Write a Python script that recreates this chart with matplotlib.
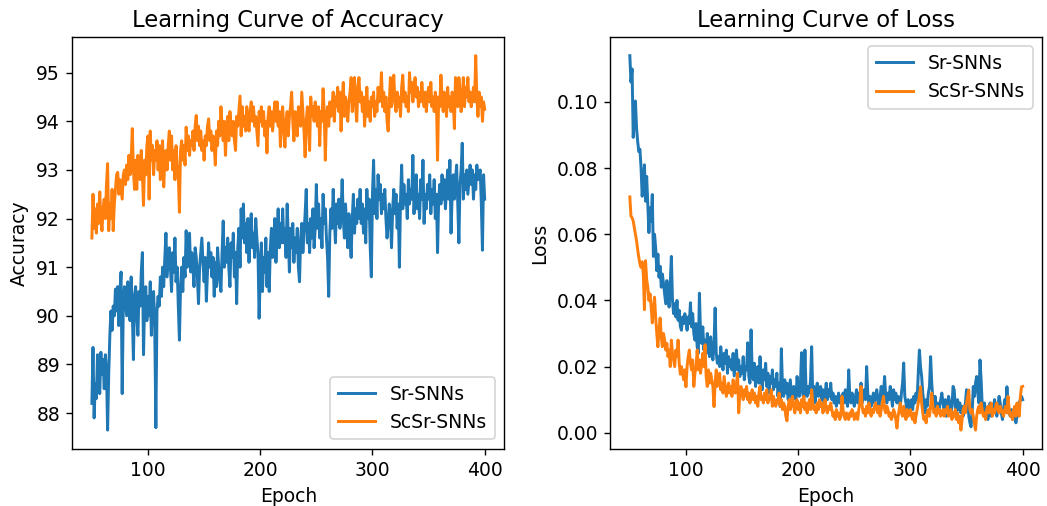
import numpy as np
import matplotlib
matplotlib.use("Agg")
import matplotlib.pyplot as plt

# input data (one per epoch from 50 to 400)
epochs = np.arange(50, 401)
labels = ['Sr-SNNs', 'ScSr-SNNs']

acc_sr = [
    88.2, 89.35, 87.9, 88.6, 88.3, 89.2, 88.7, 88.4, 89.25, 88.8,
    89.1, 88.5, 89.2, 88.9, 87.65, 88.8, 89.6, 90.1, 89.7, 90.2,
    90.0, 90.55, 90.1, 90.6, 89.8, 90.5, 90.9, 88.4, 90.2, 90.6,
    90.3, 90.0, 90.7, 90.2, 89.9, 90.8, 90.1, 89.1, 90.4, 90.6,
    90.0, 89.6, 90.5, 90.2, 90.9, 91.3, 89.2, 90.3, 90.6, 89.9,
    90.4, 90.0, 90.7, 89.6, 90.3, 90.5, 89.8, 87.7, 90.1, 90.4,
    90.2, 90.8, 90.4, 91.0, 90.6, 91.2, 91.7, 90.8, 91.1, 91.4,
    91.0, 90.5, 91.3, 90.9, 91.6, 90.7, 91.0, 90.2, 89.5, 90.6,
    91.0, 90.5, 91.2, 90.8, 91.75, 91.0, 91.4, 91.7, 90.9, 91.3,
    91.0, 90.6, 91.4, 91.2, 90.8, 90.25, 91.0, 91.3, 91.6, 91.1,
    90.7, 91.2, 90.3, 90.9, 91.5, 91.0, 91.3, 90.8, 91.2, 90.4,
    91.1, 90.6, 91.4, 91.0, 90.7, 90.5, 91.3, 91.95, 91.0, 91.4,
    91.1, 91.6, 91.0, 90.6, 91.5, 91.2, 91.7, 90.8, 91.3, 90.25,
    91.4, 91.8, 91.0, 92.2, 91.6, 92.3, 91.5, 91.9, 91.3, 92.0,
    91.1, 91.8, 92.1, 91.4, 91.7, 91.2, 92.0, 91.6, 91.3, 89.95,
    90.8, 91.5, 90.5, 91.2, 90.9, 91.6, 90.6, 91.3, 90.5, 91.4,
    91.8, 91.2, 91.5, 92.0, 91.1, 91.7, 92.2, 91.4, 91.9, 91.5,
    92.2, 91.5, 91.8, 91.2, 92.3, 91.6, 90.9, 91.8, 91.4, 91.9,
    91.1, 91.6, 91.3, 91.8, 91.0, 90.7, 91.6, 91.9, 91.3, 91.7,
    92.1, 92.6, 91.5, 91.9, 91.3, 92.0, 91.6, 92.2, 91.4, 91.8,
    92.7, 91.8, 92.3, 91.6, 92.0, 91.4, 92.5, 91.9, 92.2, 91.6,
    91.2, 90.4, 91.7, 92.2, 91.8, 92.6, 92.0, 91.5, 92.3, 91.9,
    92.4, 91.8, 92.1, 92.8, 92.0, 91.6, 92.3, 91.8, 91.4, 92.1,
    91.6, 91.2, 92.0, 92.5, 91.7, 92.2, 91.9, 92.4, 92.0, 92.6,
    91.9, 92.3, 91.7, 92.2, 91.5, 92.6, 92.0, 92.4, 91.4, 90.8,
    92.5, 93.2, 92.1, 92.6, 92.0, 92.9, 92.4, 92.7, 92.1, 92.5,
    92.2, 92.6, 92.0, 91.6, 91.9, 92.3, 92.0, 91.4, 92.2, 92.6,
    92.1, 92.5, 91.8, 92.3, 91.0, 92.4, 93.1, 92.2, 92.7, 92.3,
    92.5, 92.0, 92.8, 92.3, 92.6, 92.4, 93.3, 92.1, 92.6, 92.9,
    92.2, 92.5, 92.0, 92.8, 92.4, 93.2, 91.9, 92.5, 92.2, 92.7,
    92.4, 92.9, 92.1, 92.6, 92.3, 92.8, 92.0, 92.5, 91.3, 92.4,
    92.7, 92.3, 92.9, 92.4, 92.8, 92.2, 92.6, 93.0, 92.4, 93.2,
    91.7, 92.5, 92.9, 92.4, 92.8, 93.1, 92.3, 91.5, 92.7, 93.0,
    93.55, 92.4, 92.9, 92.6, 93.0, 92.5, 92.8, 93.1, 92.7, 93.0,
    92.4, 92.9, 92.6, 93.1, 92.8, 92.9, 93.0, 92.3, 91.35, 92.9,
    92.4,
]

acc_scsr = [
    91.6, 92.5, 91.8, 92.2, 91.7, 92.3, 91.9, 92.55, 92.0, 91.75,
    92.2, 92.4, 92.0, 92.7, 93.13, 91.75, 92.3, 92.0, 92.6, 91.75,
    92.3, 92.6, 92.9, 92.95, 92.5, 92.8, 92.6, 92.4, 92.9, 93.0,
    92.7, 93.1, 92.8, 93.3, 92.9, 93.2, 93.85, 93.0, 92.6, 93.2,
    92.6, 93.3, 93.1, 92.8, 93.4, 92.9, 92.27, 93.2, 92.9, 93.5,
    93.7, 92.4, 93.8, 93.2, 93.5, 92.9, 93.4, 93.2, 93.6, 93.0,
    93.5, 92.8, 93.3, 93.6, 92.65, 93.2, 93.4, 93.0, 93.5, 93.8,
    93.2, 93.7, 93.0, 93.4, 92.8, 93.5, 93.1, 92.9, 92.13, 93.4,
    93.6, 93.2, 93.5, 93.1, 93.88, 93.4, 93.7, 93.3, 93.6, 93.5,
    93.8, 93.4, 93.9, 94.12, 93.6, 93.9, 93.5, 93.8, 93.4, 93.6,
    93.2, 93.7, 93.5, 93.9, 94.05, 93.6, 93.8, 93.4, 93.7, 93.5,
    93.1, 93.8, 93.5, 94.0, 93.7, 94.3, 93.9, 93.6, 94.0, 93.3,
    93.8, 94.1, 93.6, 94.2, 93.9, 93.7, 94.0, 93.6, 93.4, 94.1,
    93.9, 94.2, 94.52, 93.7, 94.3, 93.9, 94.1, 93.8, 94.3, 94.0,
    93.8, 94.2, 94.4, 94.0, 94.3, 93.9, 94.1, 93.8, 93.5, 94.2,
    94.0, 94.3, 93.9, 94.2, 93.7, 94.0, 93.35, 94.1, 94.3, 93.9,
    94.2, 93.8, 94.1, 94.4, 94.0, 94.4, 93.9, 94.2, 93.48, 94.1,
    94.3, 93.8, 93.47, 94.0, 94.2, 93.7, 94.1, 94.3, 94.6, 94.0,
    93.6, 94.2, 94.0, 93.7, 94.3, 94.1, 93.9, 94.6, 94.2, 93.8,
    93.27, 94.0, 94.3, 93.9, 93.4, 94.5, 94.1, 94.3, 94.0, 94.4,
    94.1, 93.9, 94.3, 93.5, 94.2, 94.0, 94.67, 94.2, 93.2, 94.1,
    94.3, 93.9, 94.4, 94.1, 94.3, 94.6, 94.0, 94.5, 94.3, 94.7,
    94.2, 94.6, 93.8, 94.4, 94.8, 94.1, 94.5, 94.3, 94.0, 94.4,
    94.6, 94.9, 94.2, 94.5, 94.9, 94.3, 94.0, 94.7, 94.9, 94.4,
    94.6, 94.2, 94.5, 93.9, 94.3, 94.7, 94.1, 94.4, 94.0, 94.5,
    94.3, 94.6, 94.1, 94.4, 94.2, 94.7, 94.4, 94.5, 95.0, 94.3,
    94.6, 94.2, 94.5, 94.0, 93.8, 94.4, 94.9, 94.3, 94.6, 94.95,
    94.4, 94.2, 94.6, 94.3, 94.5, 94.1, 94.7, 94.95, 94.4, 94.6,
    94.3, 94.5, 94.2, 95.0, 94.6, 94.8, 94.4, 94.7, 94.9, 94.5,
    94.7, 94.3, 94.6, 94.4, 94.8, 94.5, 94.3, 94.6, 94.2, 94.5,
    94.7, 94.4, 94.8, 94.3, 94.5, 94.2, 94.6, 94.4, 93.2, 94.5,
    94.3, 94.95, 94.5, 94.2, 94.6, 94.4, 94.1, 94.7, 94.3, 94.5,
    94.2, 94.6, 94.4, 93.85, 94.9, 94.5, 94.3, 94.9, 94.6, 94.2,
    94.5, 94.9, 94.3, 94.7, 94.5, 94.9, 94.4, 94.6, 94.3, 94.5,
    94.7, 94.4, 95.35, 94.5, 94.1, 94.6, 94.3, 94.5, 94.0, 94.4,
    94.25,
]

loss_sr = [
    0.1140, 0.1060, 0.1100, 0.0893, 0.0950, 0.1003, 0.0920, 0.0880, 0.0850, 0.0857,
    0.0800, 0.0715, 0.0760, 0.0810, 0.0700, 0.0775, 0.0690, 0.0605, 0.0680, 0.0640,
    0.0720, 0.0533, 0.0600, 0.0560, 0.0490, 0.0540, 0.0470, 0.0503, 0.0440, 0.0480,
    0.0450, 0.0422, 0.0390, 0.0460, 0.0410, 0.0380, 0.0450, 0.0533, 0.0400, 0.0360,
    0.0390, 0.0350, 0.0400, 0.0340, 0.0370, 0.0321, 0.0310, 0.0350, 0.0330, 0.0360,
    0.0340, 0.0310, 0.0350, 0.0330, 0.0393, 0.0320, 0.0360, 0.0300, 0.0280, 0.0330,
    0.0260, 0.0240, 0.0422, 0.0300, 0.0270, 0.0320, 0.0250, 0.0280, 0.0240, 0.0300,
    0.0260, 0.0230, 0.0290, 0.0250, 0.0220, 0.0270, 0.0377, 0.0240, 0.0210, 0.0230,
    0.0200, 0.0260, 0.0220, 0.0190, 0.0240, 0.0210, 0.0250, 0.0180, 0.0230, 0.0200,
    0.0220, 0.0190, 0.0240, 0.0172, 0.0210, 0.0250, 0.0190, 0.0220, 0.0170, 0.0200,
    0.0180, 0.0230, 0.0160, 0.0200, 0.0190, 0.0272, 0.0170, 0.0150, 0.0311, 0.0190,
    0.0160, 0.0210, 0.0140, 0.0180, 0.0200, 0.0150, 0.0230, 0.0170, 0.0130, 0.0190,
    0.0160, 0.0210, 0.0140, 0.0180, 0.0120, 0.0170, 0.0150, 0.0190, 0.0130, 0.0160,
    0.0140, 0.0180, 0.0110, 0.0150, 0.0079, 0.0254, 0.0140, 0.0110, 0.0160, 0.0120,
    0.0150, 0.0100, 0.0130, 0.0160, 0.0110, 0.0090, 0.0140, 0.0120, 0.0100, 0.0170,
    0.0130, 0.0110, 0.0150, 0.0242, 0.0120, 0.0100, 0.0250, 0.0130, 0.0110, 0.0140,
    0.0120, 0.0160, 0.0260, 0.0110, 0.0140, 0.0090, 0.0130, 0.0150, 0.0110, 0.0120,
    0.0140, 0.0100, 0.0130, 0.0080, 0.0120, 0.0150, 0.0100, 0.0130, 0.0110, 0.0150,
    0.0100, 0.0120, 0.0090, 0.0110, 0.0080, 0.0100, 0.0120, 0.0090, 0.0110, 0.0100,
    0.0120, 0.0090, 0.0130, 0.0100, 0.0080, 0.0190, 0.0110, 0.0090, 0.0120, 0.0100,
    0.0080, 0.0110, 0.0130, 0.0090, 0.0120, 0.0100, 0.0150, 0.0090, 0.0110, 0.0130,
    0.0100, 0.0200, 0.0120, 0.0090, 0.0110, 0.0080, 0.0100, 0.0120, 0.0090, 0.0110,
    0.0130, 0.0100, 0.0080, 0.0110, 0.0140, 0.0100, 0.0120, 0.0170, 0.0110, 0.0090,
    0.0120, 0.0100, 0.0140, 0.0110, 0.0080, 0.0130, 0.0100, 0.0120, 0.0090, 0.0110,
    0.0100, 0.0080, 0.0120, 0.0150, 0.0211, 0.0110, 0.0090, 0.0070, 0.0100, 0.0060,
    0.0080, 0.0100, 0.0070, 0.0110, 0.0090, 0.0120, 0.0100, 0.0180, 0.0250, 0.0200,
    0.0170, 0.0120, 0.0090, 0.0060, 0.0100, 0.0080, 0.0120, 0.0140, 0.0230, 0.0150,
    0.0100, 0.0080, 0.0110, 0.0070, 0.0090, 0.0060, 0.0080, 0.0100, 0.0120, 0.0090,
    0.0070, 0.0100, 0.0050, 0.0080, 0.0110, 0.0090, 0.0060, 0.0080, 0.0140, 0.0130,
    0.0080, 0.0060, 0.0100, 0.0070, 0.0090, 0.0060, 0.0080, 0.0050, 0.0070, 0.0090,
    0.0130, 0.0120, 0.0050, 0.0030, 0.0018, 0.0060, 0.0140, 0.0110, 0.0150, 0.0170,
    0.0120, 0.0090, 0.0220, 0.0160, 0.0080, 0.0060, 0.0090, 0.0050, 0.0070, 0.0040,
    0.0060, 0.0090, 0.0050, 0.0070, 0.0080, 0.0100, 0.0070, 0.0050, 0.0080, 0.0110,
    0.0090, 0.0060, 0.0040, 0.0070, 0.0100, 0.0080, 0.0139, 0.0090, 0.0060, 0.0050,
    0.0070, 0.0040, 0.0060, 0.0050, 0.0030, 0.0050, 0.0070, 0.0090, 0.0100, 0.0110,
    0.0100,
]

loss_scsr = [
    0.0713, 0.0655, 0.0650, 0.0640, 0.0620, 0.0600, 0.0580, 0.0553, 0.0530, 0.0510,
    0.0500, 0.0517, 0.0480, 0.0372, 0.0520, 0.0463, 0.0440, 0.0400, 0.0420, 0.0380,
    0.0332, 0.0370, 0.0410, 0.0350, 0.0300, 0.0260, 0.0310, 0.0347, 0.0290, 0.0260,
    0.0300, 0.0280, 0.0250, 0.0270, 0.0230, 0.0250, 0.0200, 0.0280, 0.0240, 0.0220,
    0.0200, 0.0250, 0.0230, 0.0280, 0.0210, 0.0177, 0.0200, 0.0180, 0.0160, 0.0190,
    0.0139, 0.0200, 0.0230, 0.0250, 0.0210, 0.0190, 0.0220, 0.0140, 0.0180, 0.0200,
    0.0250, 0.0190, 0.0220, 0.0180, 0.0210, 0.0240, 0.0200, 0.0266, 0.0170, 0.0140,
    0.0190, 0.0150, 0.0180, 0.0160, 0.0140, 0.0079, 0.0150, 0.0190, 0.0140, 0.0160,
    0.0180, 0.0130, 0.0150, 0.0120, 0.0170, 0.0140, 0.0110, 0.0130, 0.0150, 0.0120,
    0.0140, 0.0110, 0.0160, 0.0130, 0.0120, 0.0150, 0.0180, 0.0060, 0.0120, 0.0140,
    0.0120, 0.0100, 0.0130, 0.0110, 0.0140, 0.0100, 0.0120, 0.0090, 0.0110, 0.0130,
    0.0100, 0.0120, 0.0090, 0.0110, 0.0080, 0.0120, 0.0140, 0.0100, 0.0110, 0.0090,
    0.0120, 0.0100, 0.0130, 0.0090, 0.0110, 0.0100, 0.0130, 0.0080, 0.0110, 0.0090,
    0.0080, 0.0100, 0.0090, 0.0120, 0.0080, 0.0100, 0.0070, 0.0090, 0.0080, 0.0050,
    0.0036, 0.0080, 0.0100, 0.0070, 0.0090, 0.0110, 0.0080, 0.0060, 0.0090, 0.0100,
    0.0070, 0.0090, 0.0060, 0.0100, 0.0080, 0.0110, 0.0070, 0.0090, 0.0060, 0.0080,
    0.0100, 0.0070, 0.0130, 0.0090, 0.0070, 0.0080, 0.0060, 0.0090, 0.0070, 0.0100,
    0.0080, 0.0090, 0.0060, 0.0070, 0.0100, 0.0070, 0.0060, 0.0080, 0.0070, 0.0090,
    0.0070, 0.0050, 0.0060, 0.0040, 0.0070, 0.0050, 0.0060, 0.0040, 0.0050, 0.0110,
    0.0070, 0.0050, 0.0040, 0.0060, 0.0050, 0.0040, 0.0060, 0.0050, 0.0070, 0.0060,
    0.0040, 0.0050, 0.0060, 0.0040, 0.0070, 0.0090, 0.0140, 0.0080, 0.0060, 0.0070,
    0.0050, 0.0080, 0.0060, 0.0090, 0.0070, 0.0050, 0.0070, 0.0060, 0.0080, 0.0090,
    0.0070, 0.0060, 0.0080, 0.0050, 0.0070, 0.0090, 0.0110, 0.0070, 0.0060, 0.0080,
    0.0070, 0.0050, 0.0060, 0.0040, 0.0050, 0.0070, 0.0060, 0.0040, 0.0014, 0.0050,
    0.0070, 0.0090, 0.0060, 0.0050, 0.0080, 0.0060, 0.0040, 0.0070, 0.0050, 0.0060,
    0.0070, 0.0050, 0.0040, 0.0060, 0.0030, 0.0050, 0.0070, 0.0090, 0.0110, 0.0139,
    0.0090, 0.0060, 0.0040, 0.0050, 0.0030, 0.0060, 0.0070, 0.0050, 0.0080, 0.0120,
    0.0080, 0.0060, 0.0070, 0.0050, 0.0080, 0.0060, 0.0070, 0.0050, 0.0060, 0.0070,
    0.0050, 0.0070, 0.0060, 0.0080, 0.0050, 0.0060, 0.0070, 0.0040, 0.0060, 0.0050,
    0.0070, 0.0040, 0.0060, 0.0030, 0.0050, 0.0008, 0.0040, 0.0070, 0.0080, 0.0060,
    0.0090, 0.0110, 0.0129, 0.0070, 0.0060, 0.0070, 0.0050, 0.0030, 0.0008, 0.0050,
    0.0070, 0.0080, 0.0060, 0.0090, 0.0070, 0.0050, 0.0060, 0.0040, 0.0070, 0.0080,
    0.0060, 0.0070, 0.0090, 0.0050, 0.0070, 0.0060, 0.0080, 0.0090, 0.0070, 0.0060,
    0.0080, 0.0070, 0.0060, 0.0050, 0.0070, 0.0080, 0.0060, 0.0110, 0.0070, 0.0050,
    0.0060, 0.0040, 0.0070, 0.0080, 0.0050, 0.0090, 0.0060, 0.0050, 0.0110, 0.0139,
    0.0140,
]

plt.rcParams['font.size'] = 10.8
plt.rcParams['axes.titlesize'] = 13
plt.rcParams['lines.linewidth'] = 1.7

fig, (ax1, ax2) = plt.subplots(1, 2, figsize=(1047 / 125, 506 / 125), dpi=125)
fig.subplots_adjust(left=0.069, right=0.9955, top=0.927, bottom=0.113, wspace=0.245)

# accuracy
ax1.plot(epochs, acc_sr, color='tab:blue', label=labels[0])
ax1.plot(epochs, acc_scsr, color='tab:orange', label=labels[1])
ax1.set_title('Learning Curve of Accuracy')
ax1.set_xlabel('Epoch')
ax1.set_ylabel('Accuracy')
ax1.set_xticks([100, 200, 300, 400])
ax1.legend(loc='lower right')

# loss
ax2.plot(epochs, loss_sr, color='tab:blue', label=labels[0])
ax2.plot(epochs, loss_scsr, color='tab:orange', label=labels[1])
ax2.set_title('Learning Curve of Loss')
ax2.set_xlabel('Epoch')
ax2.set_ylabel('Loss')
ax2.set_xticks([100, 200, 300, 400])
ax2.legend(loc='upper right')

fig.savefig('out.png', dpi=125)
